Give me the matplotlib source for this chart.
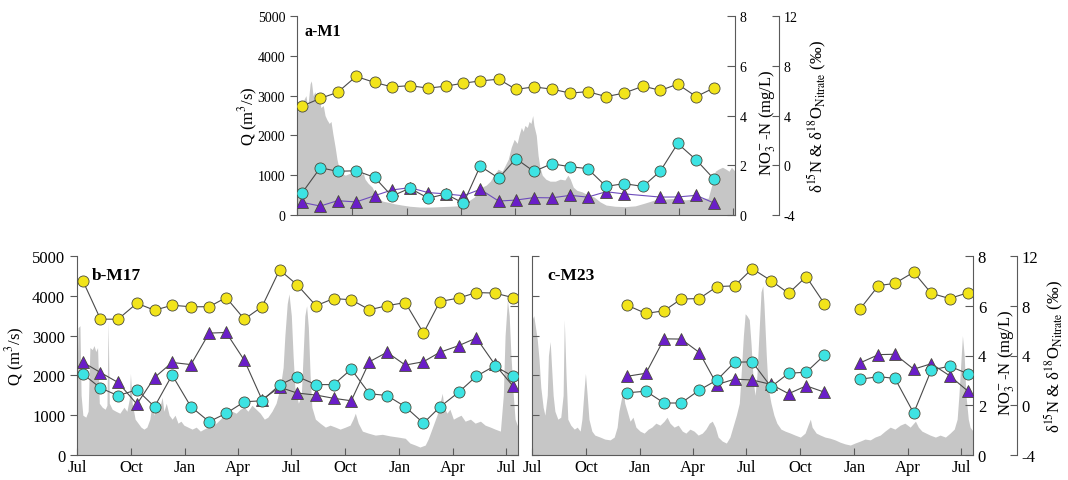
import numpy as np
import pandas as pd
import matplotlib
matplotlib.use("Agg")
import matplotlib.pyplot as plt
import matplotlib.dates as mdates

plt.rcParams['font.family'] = ['Liberation Serif', 'DejaVu Serif']
plt.rcParams['mathtext.fontset'] = 'stix'
plt.rcParams['axes.unicode_minus'] = False

# ===== 日付 (各パネルの開始日からの日数) =====
start = pd.Timestamp('2014-07-01')

# ===== a-M1 流量 =====
q_days_a = [0, 5, 10, 15, 18, 22, 24, 27, 30, 34,
            37, 40, 44, 47, 50, 54, 57, 60, 64, 67,
            70, 74, 81, 89, 97, 106, 111, 114, 119, 126,
            131, 136, 143, 153, 164, 176, 189, 206, 223, 240,
            257, 270, 277, 283, 290, 297, 303, 310, 317, 324,
            330, 337, 344, 349, 354, 359, 364, 369, 372, 376,
            379, 382, 386, 389, 392, 395, 397, 401, 404, 407,
            411, 417, 424, 433, 441, 449, 454, 458, 463, 469,
            478, 488, 498, 508, 518, 533, 550, 567, 583, 600,
            617, 634, 651, 662, 669, 689, 696, 701, 706, 713,
            719, 724, 728, 731, 734]
q_a = [2600, 2650, 2850, 3000, 2700, 3300, 3370, 3000, 3100, 2850,
       2950, 2700, 2750, 2500, 2400, 2300, 2350, 2050, 1700, 1400,
       1200, 1050, 1000, 1050, 950, 1000, 1050, 900, 800, 700,
       550, 450, 350, 320, 280, 250, 220, 200, 200, 210,
       220, 230, 260, 300, 380, 450, 600, 700, 750, 850,
       1000, 1150, 1100, 1250, 1400, 1700, 1900, 1800, 2000, 2200,
       2100, 2250, 2200, 2350, 2300, 2500, 2250, 2000, 1500, 1200,
       1000, 900, 850, 850, 900, 880, 1000, 900, 700, 620,
       580, 500, 450, 330, 250, 220, 210, 230, 300, 380,
       400, 420, 380, 400, 420, 420, 800, 1100, 1150, 1200,
       1150, 1100, 1200, 1150, 1100]

# ===== b-M17 流量 =====
q_days_b = [0, 2, 5, 7, 10, 15, 19, 22, 26, 29,
            32, 35, 38, 43, 48, 51, 53, 55, 60, 66,
            73, 80, 85, 89, 91, 94, 99, 104, 109, 114,
            119, 124, 128, 131, 136, 141, 145, 148, 152, 157,
            162, 167, 172, 177, 182, 189, 196, 203, 210, 216,
            223, 230, 237, 244, 250, 257, 264, 271, 278, 285,
            291, 298, 305, 312, 319, 325, 332, 339, 346, 351,
            354, 358, 361, 365, 368, 371, 377, 382, 385, 388,
            391, 394, 397, 400, 406, 414, 423, 431, 440, 448,
            457, 465, 470, 474, 479, 486, 496, 508, 520, 533,
            547, 559, 567, 576, 584, 593, 598, 603, 608, 613,
            618, 622, 625, 630, 635, 641, 647, 654, 661, 670,
            678, 687, 695, 704, 712, 721, 726, 729, 733, 736,
            739, 743, 746, 751]
q_b = [2000, 3200, 3250, 1500, 1000, 950, 1100, 2700, 2650, 2750,
       2600, 2700, 1300, 1200, 1150, 1250, 3350, 1300, 1150, 1100,
       1050, 1200, 1100, 1400, 2050, 1300, 900, 800, 700, 650,
       700, 900, 1300, 1000, 1350, 1200, 1450, 1100, 1300, 1000,
       900, 1000, 800, 850, 750, 700, 650, 700, 600, 650,
       700, 750, 800, 900, 1000, 950, 1100, 1050, 1150, 1200,
       1100, 1250, 1150, 1050, 900, 950, 1100, 1300, 1700, 2200,
       3000, 3800, 4050, 3500, 2500, 1700, 1300, 1500, 2500, 3500,
       3750, 3200, 2000, 1200, 900, 800, 700, 750, 700, 650,
       700, 750, 900, 1050, 800, 600, 550, 500, 520, 480,
       450, 420, 300, 250, 200, 250, 400, 600, 800, 1000,
       1300, 1550, 1200, 1050, 1150, 900, 950, 1000, 850, 900,
       800, 850, 750, 700, 650, 600, 1500, 3000, 3900, 3500,
       2500, 1500, 900, 700]

# ===== c-M23 流量 =====
q_days_c = [0, 3, 5, 9, 12, 15, 19, 22, 26, 28,
            31, 33, 36, 39, 44, 49, 53, 55, 58, 61,
            66, 72, 77, 82, 85, 89, 91, 94, 97, 102,
            107, 116, 124, 133, 140, 145, 148, 152, 155, 158,
            162, 167, 172, 177, 184, 191, 198, 204, 211, 218,
            225, 230, 235, 242, 249, 256, 262, 269, 276, 283,
            290, 296, 302, 307, 312, 317, 324, 331, 337, 342,
            348, 353, 356, 360, 363, 366, 370, 373, 377, 380,
            383, 387, 390, 393, 395, 399, 402, 407, 412, 417,
            424, 431, 440, 448, 457, 465, 470, 474, 477, 484,
            491, 499, 508, 516, 525, 533, 542, 550, 559, 567,
            576, 584, 593, 601, 610, 618, 627, 635, 644, 653,
            658, 664, 671, 678, 687, 695, 704, 712, 719, 724,
            727, 731, 733, 736, 739, 743, 746, 751]
q_c = [3400, 3500, 3300, 2900, 2400, 1700, 1200, 1000, 1500, 2500,
       2850, 2300, 1500, 1100, 900, 950, 1500, 3400, 2000, 900,
       750, 650, 700, 600, 900, 1700, 2050, 1500, 900, 600,
       500, 450, 400, 380, 450, 700, 1100, 1400, 1650, 1300,
       1100, 850, 950, 700, 600, 550, 650, 700, 800, 750,
       850, 950, 800, 700, 750, 600, 550, 650, 600, 500,
       550, 650, 800, 850, 700, 450, 350, 300, 450, 700,
       1000, 1300, 2000, 3000, 3550, 3500, 3400, 2800, 1800, 1500,
       2000, 3200, 4100, 4250, 3800, 2500, 1700, 1300, 1000, 800,
       650, 600, 550, 500, 450, 550, 750, 900, 700, 550,
       500, 450, 420, 380, 320, 280, 250, 300, 350, 400,
       380, 450, 500, 600, 700, 650, 750, 800, 700, 850,
       700, 600, 550, 500, 450, 500, 450, 550, 650, 900,
       1500, 2500, 3000, 2500, 1500, 900, 700, 600]

# ===== 採水日 =====
sample_days_a = [8, 39, 68, 99, 130, 159, 189, 220, 249, 279, 307, 338,
                 367, 397, 427, 458, 487, 518, 548, 580, 609, 638, 669, 698]
sample_days_bc = [10, 40, 70, 102, 132, 162, 194, 225, 254, 285, 315, 345,
                  375, 407, 437, 467, 498, 528, 559, 590, 618, 650, 680, 711, 742]

# ===== NO3-N (mg/L) =====
no3_a = [4.37, 4.69, 4.93, 5.57, 5.33, 5.15, 5.20, 5.10, 5.18, 5.30, 5.39, 5.46,
         5.05, 5.15, 5.06, 4.90, 4.96, 4.76, 4.90, 5.18, 5.01, 5.26, 4.76, 5.10]
no3_b = [7.00, 5.46, 5.46, 6.10, 5.82, 6.02, 5.96, 5.96, 6.33, 5.46, 5.96, 7.44,
         6.84, 6.00, 6.29, 6.24, 5.84, 6.00, 6.13, 4.90, 6.17, 6.31, 6.53, 6.51, 6.33]
no3_c = [None, None, None, None, None, 6.02, 5.69, 5.80, 6.27, 6.29, 6.77, 6.80,
         7.49, 7.01, 6.50, 7.17, 6.08, None, 5.88, 6.81, 6.90, 7.35, 6.50, 6.29, 6.52]

# ===== 同位体 (‰): 丸 / 三角 =====
iso_circ_a = [-2.26, -0.20, -0.49, -0.44, -0.97, -2.48, -1.85, -2.65, -2.31, -3.05, -0.07, -1.04,
              0.53, -0.50, 0.12, -0.12, -0.27, -1.70, -1.48, -1.70, -0.46, 1.75, 0.43, -1.07]
iso_tri_a = [-2.98, -3.28, -2.85, -2.95, -2.45, -1.99, -1.80, -2.20, -2.30, -2.45, -1.94, -2.88,
             -2.80, -2.60, -2.62, -2.42, -2.56, -2.13, -2.30, None, -2.56, -2.55, -2.42, -3.02]
iso_circ_b = [2.51, 1.39, 0.77, 1.25, -0.12, 2.43, -0.12, -1.32, -0.65, 0.28, 0.36, 1.63,
              2.31, 1.66, 1.66, 2.90, 0.93, 0.78, -0.12, -1.44, -0.14, 1.05, 2.33, 3.16, 2.34]
iso_tri_b = [3.46, 2.63, 1.83, 0.09, 2.23, 3.44, 3.27, 5.80, 5.85, 3.61, 0.45, 1.45,
             0.98, 0.82, 0.56, 0.36, 3.50, 4.26, 3.23, 3.50, 4.26, 4.79, 5.41, 3.31, 1.57]
iso_circ_c = [None, None, None, None, None, 1.00, 1.13, 0.18, 0.18, 1.22, 2.03, 3.46,
              3.49, 1.48, 2.57, 2.66, 4.03, None, 2.09, 2.30, 2.16, -0.63, 2.83, 3.14, 2.54]
iso_tri_c = [None, None, None, None, None, 2.33, 2.57, 5.34, 5.32, 4.24, 1.66, 2.10,
             2.03, 1.68, 0.93, 1.56, 1.05, None, 3.41, 4.07, 4.10, 2.90, 3.34, 2.38, 1.15]

GRAY = '#c6c6c6'
SPINE = '#5a5a5a'
YELLOW = '#f2e41a'
CYAN = '#3de3e3'
PURPLE = '#6a1ec8'
LINE = '#4a4a4a'

NO3_LABEL = 'NO$_3^-$-N (mg/L)'
ISO_LABEL = 'δ$^{15}$N & δ$^{18}$O$_{\\mathrm{Nitrate}}$ (‰)'


def to_dates(days):
    return start + pd.to_timedelta(np.asarray(days, dtype=float), unit='D')


def series(ax, days, vals, bridge, marker, fc, ms, lc=LINE):
    d = to_dates(days)
    v = np.array([np.nan if x is None else x for x in vals], dtype=float)
    if bridge:  # 欠測をまたいで線をつなぐ
        ok = np.isfinite(v)
        d, v = d[ok], v[ok]
    ax.plot(d, v, color=lc, lw=0.8, marker=marker, ms=ms, mfc=fc,
            mec='#4a4a3a', mew=0.6)


def panel(rect, name, q_days, q, s_days, no3, circ, tri, span, fs, big, title_fs,
          q_label_x, no3_label_x, iso_label_x, show_q, show_x, show_right, bridge):
    ax = fig.add_axes(rect)
    ax.fill_between(to_dates(q_days), 0, q, color=GRAY, lw=0)
    ax.set_ylim(0, 5000)
    ax.set_xlim(start, start + pd.Timedelta(days=span))
    ax.set_yticks(range(0, 5001, 1000))
    ax.xaxis.set_major_locator(mdates.MonthLocator(bymonth=[1, 4, 7, 10]))
    ax.xaxis.set_major_formatter(mdates.DateFormatter('%b'))
    for s in ['top', 'right']:
        ax.spines[s].set_visible(False)
    for s in ['left', 'bottom']:
        ax.spines[s].set_color(SPINE)
    ax.tick_params(axis='x', direction='in', length=5, color=SPINE,
                   labelsize=fs, labelbottom=show_x, pad=3)
    if show_q:
        ax.tick_params(axis='y', direction='out', length=5, color=SPINE, labelsize=fs)
        ax.set_ylabel('Q (m$^3$/s)', fontsize=12)
        ax.yaxis.set_label_coords(q_label_x, 0.5)
    else:
        ax.tick_params(axis='y', direction='in', length=5, color=SPINE, labelleft=False)

    axn = ax.twinx()
    axn.set_ylim(0, 8)
    axn.set_yticks([0, 2, 4, 6, 8])
    axd = ax.twinx()
    axd.set_ylim(-4, 12)
    axd.set_yticks([-4, 0, 4, 8, 12])
    for a in (axn, axd):
        for s in ['top', 'bottom', 'left']:
            a.spines[s].set_visible(False)
        a.spines['right'].set_color(SPINE)
    axn.tick_params(axis='y', direction='in', length=6, color=SPINE,
                    labelsize=fs, labelright=show_right)
    if show_right:
        axd.spines['right'].set_position(('outward', 44 * 0.72))
        axd.tick_params(axis='y', direction='in', length=5, color=SPINE, labelsize=fs)
        axn.set_ylabel(NO3_LABEL, fontsize=big)
        axn.yaxis.set_label_coords(no3_label_x, 0.47)
        axd.set_ylabel(ISO_LABEL, fontsize=big)
        axd.yaxis.set_label_coords(iso_label_x, 0.5)
    else:
        axd.spines['right'].set_visible(False)
        axd.tick_params(axis='y', right=False, labelright=False)

    tri_lc = '#6e4cbc' if bridge else LINE
    series(axd, s_days, tri, bridge, '^', PURPLE, 8, lc=tri_lc)
    series(axd, s_days, circ, bridge, 'o', CYAN, 8)
    series(axn, s_days, no3, bridge, 'o', YELLOW, 8)

    ax.text(0.018 if bridge else 0.034, 0.925 if bridge else 0.905, name,
            transform=ax.transAxes, fontsize=title_fs, fontweight='bold', va='center')
    return ax


fig = plt.figure(figsize=(10.68, 4.81), dpi=100)
W, H = 1068, 481

panel([297 / W, (H - 216) / H, 438 / W, 199 / H], 'a-M1', q_days_a, q_a,
      sample_days_a, no3_a, iso_circ_a, iso_tri_a, 734, 10, 12, 11.5,
      -0.085, 1.05, 1.162, True, False, True, True)
panel([77 / W, (H - 456) / H, 441 / W, 199 / H], 'b-M17', q_days_b, q_b,
      sample_days_bc, no3_b, iso_circ_b, iso_tri_b, 751, 12, 12, 12.5,
      -0.113, 1.05, 1.16, True, True, False, False)
panel([532 / W, (H - 456) / H, 441 / W, 199 / H], 'c-M23', q_days_c, q_c,
      sample_days_bc, no3_c, iso_circ_c, iso_tri_c, 751, 12, 12, 12.5,
      -0.1, 1.052, 1.158, False, True, True, False)

fig.savefig('out.png', dpi=100, facecolor='white')
